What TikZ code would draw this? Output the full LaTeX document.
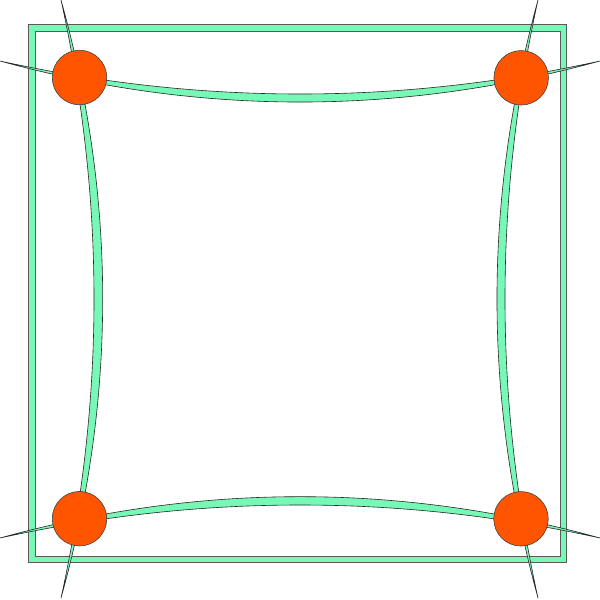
\documentclass[tikz,border=0pt]{standalone}
\usepackage{tikz}
\usetikzlibrary{positioning}
\definecolor{netgreen}{RGB}{120,248,182}
\definecolor{knotorange}{RGB}{255,85,0}

\begin{document}
\begin{tikzpicture}[x=1pt,y=-1pt,%
        frame/.style={fill=netgreen, draw=black!65, line width=0.8pt, even odd rule},
        strand/.style={fill=netgreen, draw=black!85, line width=0.6pt, line join=round},
        knot/.style={circle, fill=knotorange, draw=black!75, line width=0.6pt,
          minimum size=54.5pt, inner sep=0pt}
        ]
        \useasboundingbox (0,0) rectangle (600,600);
        % frame
        \draw[frame] (28.5,24.5) rectangle (566.5,562) (35,31) rectangle (560,556);
        % strand ends
        \coordinate (lt) at (61,0);   \coordinate (lb) at (61,598);
        \coordinate (rt) at (538,0);  \coordinate (rb) at (538,598);
        \coordinate (tl) at (0,61);   \coordinate (tr) at (600,61);
        \coordinate (bl) at (0,538);  \coordinate (br) at (600,538);
        % strands
        \draw[strand] (lt) .. controls (105,199.3) and (105,398.7) .. (lb)
          .. controls (116.6,398.7) and (116.6,199.3) .. (lt) -- cycle;
        \draw[strand] (rt) .. controls (494,199.3) and (494,398.7) .. (rb)
          .. controls (483.3,398.7) and (483.3,199.3) .. (rt) -- cycle;
        \draw[strand] (tl) .. controls (200,105) and (400,105) .. (tr)
          .. controls (400,115.7) and (200,115.7) .. (tl) -- cycle;
        \draw[strand] (bl) .. controls (200,494) and (400,494) .. (br)
          .. controls (400,482.9) and (200,482.9) .. (bl) -- cycle;
        % knots
        \node[knot] (ktl) at (79.5,77.5) {};
        \node[knot] (ktr) at (521.2,77.8) {};
        \node[knot] (kbl) at (79.5,518.7) {};
        \node[knot] (kbr) at (521,518.8) {};
\end{tikzpicture}
\end{document}
